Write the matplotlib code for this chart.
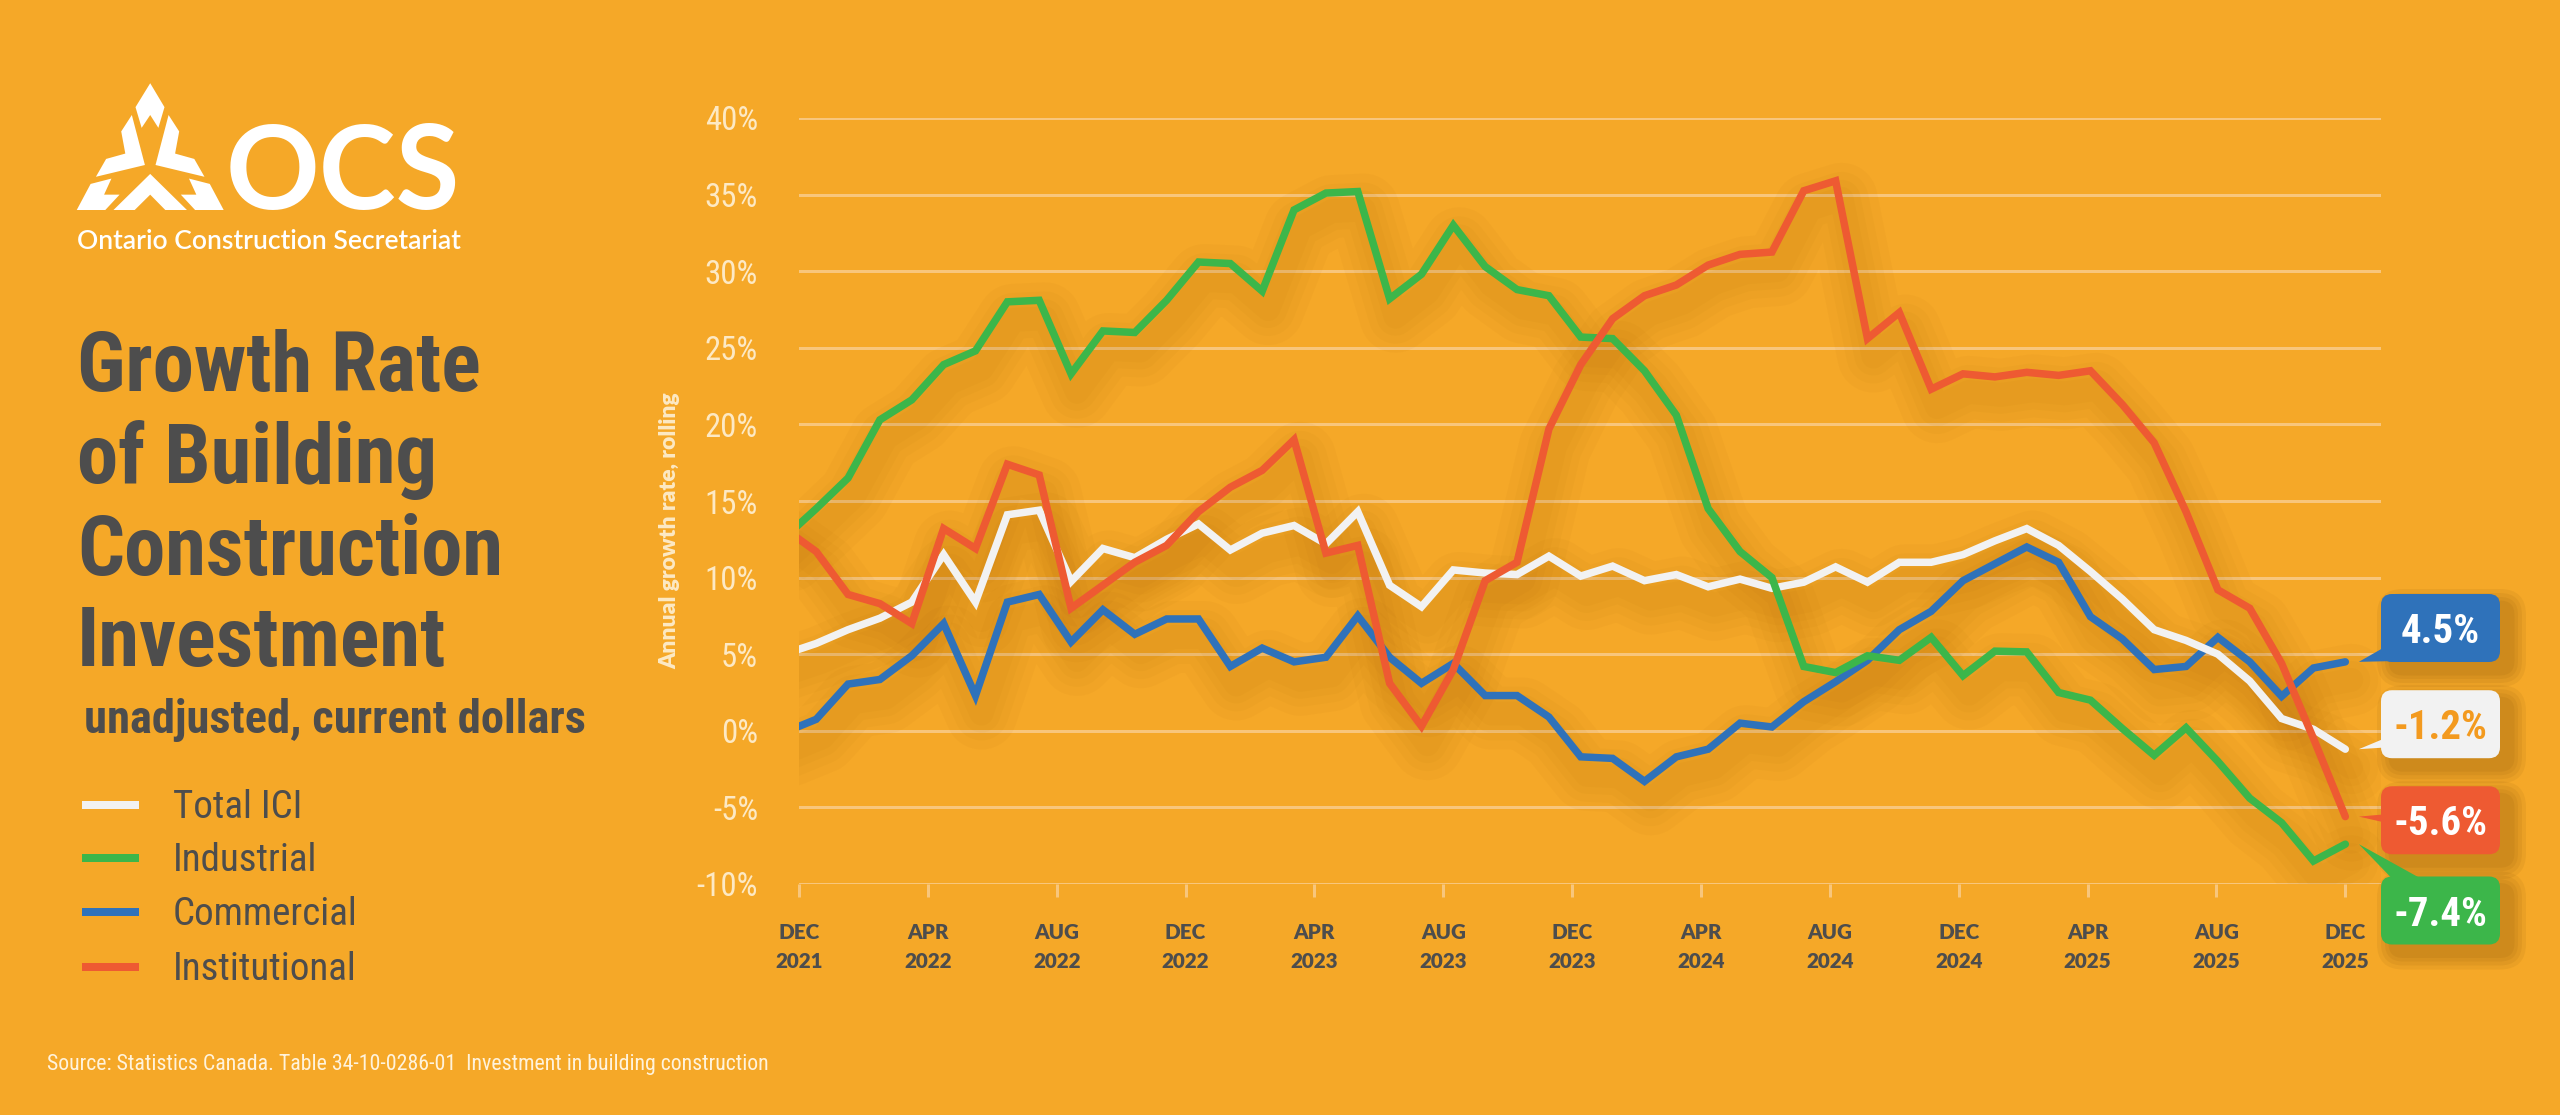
import numpy as np
import matplotlib
matplotlib.use('Agg')
import matplotlib.pyplot as plt
from matplotlib import font_manager as fm
from matplotlib import transforms as mtransforms
from matplotlib.patches import FancyBboxPatch, Polygon
from matplotlib.textpath import TextToPath

W, H, DPI = 2560, 1115, 100
PT = 72 / DPI   # points per pixel

BG = '#F5A828'
GRID = '#F8C67C'
DARK = '#4D4D4D'
CREAM = '#FDE9C4'

# month index: 0 = Dec 2021 ... 48 = Dec 2025
# (-1 = Nov 2021, only used for the clipped first segment at the left edge)
months = np.arange(-1, 49)
tick_labels = ['DEC\n2021', 'APR\n2022', 'AUG\n2022', 'DEC\n2022', 'APR\n2023', 'AUG\n2023',
               'DEC\n2023', 'APR\n2024', 'AUG\n2024', 'DEC\n2024', 'APR\n2025', 'AUG\n2025',
               'DEC\n2025']
y_ticks = [-10, -5, 0, 5, 10, 15, 20, 25, 30, 35, 40]

total_ici = [5.0, 5.7, 6.6, 7.35, 8.4, 11.5, 8.4, 14.1, 14.4, 9.75, 11.9,
             11.3, 12.5, 13.5, 11.8, 12.9, 13.4, 12.2, 14.3, 9.5, 8.1,
             10.5, 10.3, 10.2, 11.4, 10.1, 10.75, 9.8, 10.2, 9.4, 9.9,
             9.3, 9.7, 10.7, 9.7, 11.0, 11.0, 11.5, 12.4, 13.2, 12.1,
             10.4, 8.6, 6.6, 5.9, 5.0, 3.25, 0.8, 0.1, -1.2]
industrial = [12.6, 14.5, 16.5, 20.3, 21.6, 23.9, 24.8, 28.0, 28.1, 23.3, 26.1,
              26.0, 28.1, 30.6, 30.5, 28.7, 34.0, 35.1, 35.2, 28.2, 29.8,
              33.0, 30.3, 28.8, 28.4, 25.7, 25.6, 23.5, 20.6, 14.5, 11.7,
              10.0, 4.2, 3.8, 4.9, 4.6, 6.1, 3.6, 5.2, 5.15, 2.5,
              2.0, 0.15, -1.6, 0.2, -2.0, -4.4, -6.0, -8.5, -7.4]
commercial = [-0.1, 0.75, 3.05, 3.35, 4.9, 7.0, 2.3, 8.4, 8.9, 5.8, 7.9,
              6.3, 7.3, 7.3, 4.2, 5.4, 4.5, 4.8, 7.5, 4.8, 3.1,
              4.4, 2.3, 2.3, 0.9, -1.7, -1.8, -3.3, -1.7, -1.2, 0.5,
              0.25, 1.9, 3.2, 4.6, 6.6, 7.8, 9.8, 10.9, 12.0, 11.0,
              7.45, 6.0, 4.0, 4.2, 6.1, 4.5, 2.25, 4.1, 4.5]
institutional = [13.2, 11.7, 8.9, 8.3, 7.0, 13.2, 11.9, 17.4, 16.7, 8.0, 9.5,
                 11.0, 12.1, 14.3, 15.9, 17.0, 19.0, 11.6, 12.1, 3.1, 0.3,
                 4.0, 9.8, 11.0, 19.7, 23.9, 26.9, 28.4, 29.1, 30.4, 31.1,
                 31.25, 35.25, 35.9, 25.6, 27.3, 22.3, 23.3, 23.1, 23.4, 23.2,
                 23.5, 21.3, 18.8, 14.3, 9.2, 8.0, 4.4, -0.5, -5.6]

series_names = ['Total ICI', 'Industrial', 'Commercial', 'Institutional']
series_values = [total_ici, industrial, commercial, institutional]
series_colors = ['#F2F2F2', '#3CB64A', '#2F72BA', '#EE5A32']
label_text_colors = ['#F39A1F', 'white', 'white', 'white']
draw_order = [2, 0, 1, 3]

# end-label layout: vertical nudge of each box (in % units) and where its pointer meets the box
label_nudge = [1.63, -4.33, 2.21, -0.24]
pointer_spec = [('left', 11.5, 25.0), ('top', 24.5, 65.0), ('left', 1.0, 22.0), ('left', 29.0, 41.0)]

source_text = 'Source: Statistics Canada. Table 34-10-0286-01  Investment in building construction'

# ---------------------------------------------------------------- fonts
_ttp = TextToPath()
BASES = ('Liberation Sans', 'DejaVu Sans', 'Noto Sans', 'Roboto', 'Open Sans', 'Lato', 'Inter')


def text_width(s, fp):
    w, h, d = _ttp.get_text_width_height_descent(s, fp, ismath=False)
    return w


def cap_height(fp):
    w, h, d = _ttp.get_text_width_height_descent('H', fp, ismath=False)
    return h


def weight_of(e):
    w = e.weight
    if isinstance(w, str):
        w = fm.weight_dict.get(w, 400)
    return int(w)


def usable(e):
    if e.style != 'normal':
        return False
    nm = e.name
    for b in BASES:
        if nm == b:
            return True
        if nm.startswith(b + ' ') and ('Condensed' in nm or 'Narrow' in nm):
            return True
    return False


def pick_font(sample, target, wmin, wmax):
    # installed sans whose width/cap-height ratio is closest to the target
    best, best_d = None, 1e9
    for e in fm.fontManager.ttflist:
        if not usable(e):
            continue
        wt = weight_of(e)
        if wt < wmin or wt > wmax:
            continue
        try:
            fp = fm.FontProperties(fname=e.fname, size=100)
            r = text_width(sample, fp) / cap_height(fp)
        except Exception:
            continue
        d = abs(r - target)
        if d < best_d:
            best, best_d = e.fname, d
    return best


def fitted(fname, s, width_px, family=None, weight='normal'):
    if fname:
        fp = fm.FontProperties(fname=fname, size=100)
    else:
        fp = fm.FontProperties(family=family, weight=weight, size=100)
    w_px = text_width(s, fp) / PT
    fp.set_size(100 * width_px / w_px)
    return fp


cond_bold = pick_font('Growth Rate', 6.2, 600, 800)
cond_reg = pick_font('Institutional', 6.3, 400, 500)

# ---------------------------------------------------------------- figure
fig = plt.figure(figsize=(W / DPI, H / DPI), dpi=DPI, facecolor=BG)


def fx(x):
    return x / W


def fy(y_top):
    return 1 - y_top / H


AX_L, AX_R, AX_T, AX_B = 799, 2381, 118, 884
ax = fig.add_axes([fx(AX_L), fy(AX_B), (AX_R - AX_L) / W, (AX_B - AX_T) / H])
ax.set_facecolor('none')
for sp in ax.spines.values():
    sp.set_visible(False)

x_first_tick = -0.54
ax.set_xlim(x_first_tick, 49.12)
ax.set_ylim(-10, 40)

ax.set_yticks(y_ticks)
ax.set_yticklabels([f'{v}%' for v in y_ticks], fontproperties=fitted(cond_reg, '40%', 53),
                   color=CREAM)
ax.tick_params(axis='y', length=0, pad=41 * PT)
ax.grid(axis='y', color=GRID, lw=3 * PT)
ax.set_axisbelow(True)

ax.set_xticks(np.linspace(x_first_tick, months[-1], len(tick_labels)))
ax.set_xticklabels(tick_labels, fontproperties=fitted(None, '2021', 48, family='Lato', weight='heavy'),
                   color=DARK, linespacing=1.6)
ax.tick_params(axis='x', length=13 * PT, width=3 * PT, color=GRID, direction='out', pad=26 * PT)

# soft drop shadows under the lines
shadow_tr = mtransforms.offset_copy(ax.transData, fig=fig, x=6, y=-18, units='dots')
for vals in series_values:
    for lw in (24, 38, 54, 72):
        ax.plot(months, vals, color='#945200', alpha=0.035, lw=lw * PT, transform=shadow_tr,
                solid_joinstyle='round', solid_capstyle='round', zorder=1)

for i in draw_order:
    ax.plot(months, series_values[i], color=series_colors[i], lw=7.5 * PT,
            solid_joinstyle='miter', solid_capstyle='round', zorder=3)

fig.text(fx(670), fy(531), 'Annual growth rate, rolling', rotation=90, ha='center', va='center',
         color=CREAM, fontproperties=fitted(None, 'Annual growth rate, rolling', 277,
                                            family='Lato', weight='heavy'))

# ---------------------------------------------------------------- end labels
fig.canvas.draw()
to_px = ax.transData.transform
px_tr = mtransforms.IdentityTransform()
box_left = ax.transAxes.transform((1, 0))[0]
BOX_W, BOX_H = 119, 68
box_fp = fitted(cond_bold, '-7.4%', 94)

for i in range(len(series_values)):
    vals = series_values[i]
    ex, ey = to_px((months[-1], vals[-1]))
    cy = to_px((months[-1], vals[-1] + label_nudge[i]))[1]
    bx0, by0 = box_left, cy - BOX_H / 2
    tip = (ex + 13.5, ey)
    side, a, b = pointer_spec[i]
    if side == 'left':
        tri = [tip, (bx0 + 16, by0 + a), (bx0 + 16, by0 + b)]
    else:
        tri = [tip, (bx0 + a, by0 + BOX_H - 16), (bx0 + b, by0 + BOX_H - 16)]
    # box shadow
    for grow in (30, 22, 14, 7):
        fig.add_artist(FancyBboxPatch((bx0 + 11 - grow / 2, by0 - 10 - grow / 2), BOX_W + grow, BOX_H + grow,
                                      boxstyle=f'round,pad=0,rounding_size={11 + grow / 2}',
                                      fc='#6B3F00', ec='none', alpha=0.075, transform=px_tr, zorder=4))
    fig.add_artist(Polygon(tri, closed=True, fc=series_colors[i], ec='none', transform=px_tr, zorder=5))
    fig.add_artist(FancyBboxPatch((bx0, by0), BOX_W, BOX_H, boxstyle='round,pad=0,rounding_size=11',
                                  fc=series_colors[i], ec='none', transform=px_tr, zorder=6))
    fig.text((bx0 + BOX_W / 2) / W, cy / H, f'{vals[-1]:.1f}%', ha='center', va='center_baseline',
             color=label_text_colors[i], fontproperties=box_fp, zorder=7)

# ---------------------------------------------------------------- left panel
title_fp = fitted(cond_bold, 'Growth Rate', 404)
for line, base in zip(['Growth Rate', 'of Building', 'Construction', 'Investment'], [391, 483, 575, 666]):
    fig.text(fx(77), fy(base), line, ha='left', va='baseline', color=DARK, fontproperties=title_fp)
fig.text(fx(84), fy(733), 'unadjusted, current dollars', ha='left', va='baseline', color=DARK,
         fontproperties=fitted(cond_bold, 'unadjusted, current dollars', 502))

leg_fp = fitted(cond_reg, 'Institutional', 184)
for name, col, cy in zip(series_names, series_colors, [805, 858, 912, 967]):
    fig.add_artist(plt.Line2D([fx(82), fx(139)], [fy(cy), fy(cy)], color=col, lw=8 * PT,
                              solid_capstyle='butt', transform=fig.transFigure))
    fig.text(fx(173), fy(cy + 13), name, ha='left', va='baseline', color=DARK, fontproperties=leg_fp)

fig.text(fx(47), fy(1070), source_text, ha='left', va='baseline', color='#FFF3DC',
         fontproperties=fitted(cond_reg, source_text, 723))

# logo emblem (outline traced in a zoomed view; axis of symmetry at 368)
emblem = [
    [(368, 233), (403, 300), (388, 358), (368, 322), (347, 358), (332, 300)],
    [(323, 322), (355, 462), (235, 495), (260, 445), (307, 430), (297, 368)],
    [(188, 588), (258, 588), (293, 545), (255, 545), (273, 500), (222, 515)],
    [(368, 487), (458, 588), (405, 588), (368, 545), (330, 588), (278, 588)],
]
mirrored = [[(736 - x, y) for x, y in emblem[1]], [(736 - x, y) for x, y in emblem[2]]]
for shape in emblem + mirrored:
    pts = [(fx(x / 2.45), fy(y / 2.8)) for x, y in shape]
    fig.add_artist(Polygon(pts, closed=True, fc='white', ec='none', transform=fig.transFigure))

fig.text(fx(226), fy(209), 'OCS', ha='left', va='baseline', color='white',
         fontproperties=fitted(None, 'OCS', 234, family='Lato', weight='bold'))
fig.text(fx(77), fy(249), 'Ontario Construction Secretariat', ha='left', va='baseline', color='white',
         fontproperties=fitted(None, 'Ontario Construction Secretariat', 384, family='Lato',
                               weight='semibold'))

fig.savefig('out.png', dpi=DPI, facecolor=BG)
